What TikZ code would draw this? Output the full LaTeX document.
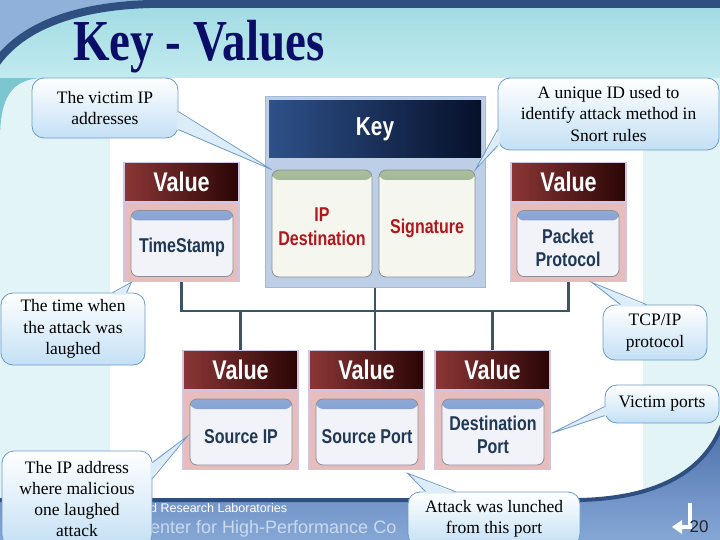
\documentclass[tikz,border=0pt]{standalone}
\usepackage{fontspec}
\setmainfont{Liberation Serif}
\newfontfamily\narrowsans[FakeStretch=0.8]{Liberation Sans}
\newfontfamily\plainsans{Liberation Sans}
\newfontfamily\titlefont[FakeStretch=0.81]{Liberation Serif}
\usetikzlibrary{calc,arrows.meta}
\definecolor{topcyanA}{HTML}{9FDAE2}
\definecolor{topcyanB}{HTML}{C2EBEF}
\definecolor{topblue}{HTML}{8FB1DA}
\definecolor{darkblue}{HTML}{2E4F80}
\definecolor{tealc}{HTML}{7CC6CF}
\definecolor{palecyan}{HTML}{E2F4F6}
\definecolor{botA}{HTML}{4D70AB}
\definecolor{botB}{HTML}{89AAD8}
\definecolor{kgfill}{HTML}{BCCFE6}
\definecolor{kgborder}{HTML}{A3B9D8}
\definecolor{navyA}{HTML}{2E5189}
\definecolor{navyB}{HTML}{06102A}
\definecolor{redA}{HTML}{8C3636}
\definecolor{redB}{HTML}{2A0505}
\definecolor{lav}{HTML}{CFC6E6}
\definecolor{pinkbody}{HTML}{E6BCBC}
\definecolor{cardborder}{HTML}{8C8F98}
\definecolor{kcardfill}{HTML}{F5F7EF}
\definecolor{gbarA}{HTML}{A9BE9A}
\definecolor{gbarB}{HTML}{728F62}
\definecolor{vcardfill}{HTML}{F2F3F8}
\definecolor{bbarA}{HTML}{8FA9D8}
\definecolor{bbarB}{HTML}{5875B3}
\definecolor{ktextc}{HTML}{B3161D}
\definecolor{vtextc}{HTML}{1F3856}
\definecolor{connc}{HTML}{3D5463}
\definecolor{titleblue}{HTML}{0B0E66}
\definecolor{cborder}{HTML}{6C9BC9}
\definecolor{cbot}{HTML}{C3E0F5}
\definecolor{wedgefill}{HTML}{DCEDF9}
\definecolor{bandtext}{HTML}{CAD9EE}
\begin{document}
\begin{tikzpicture}[x=1pt,y=-1pt,
  kgroup/.style={draw=kgborder, fill=kgfill, line width=1, minimum width=220, minimum height=190, inner sep=0},
  keyhead/.style={left color=navyA, right color=navyB, minimum width=212, minimum height=57, inner sep=0, text=white, font=\narrowsans\bfseries\fontsize{26}{26}\selectfont},
  card/.style={rounded corners=7, draw=cardborder, line width=0.8, inner sep=0},
  keycard/.style={card, fill=kcardfill, minimum height=107, path picture={\shade[top color=gbarA, bottom color=gbarB] (path picture bounding box.north west) rectangle ([yshift=-10pt]path picture bounding box.north east);}},
  valcard/.style={card, fill=vcardfill, minimum width=102, minimum height=66, path picture={\shade[top color=bbarA, bottom color=bbarB] (path picture bounding box.north west) rectangle ([yshift=-10pt]path picture bounding box.north east);}},
  valhead/.style={left color=redA, right color=redB, draw=lav, line width=1.2, minimum width=115, minimum height=39, inner sep=0, text=white, font=\narrowsans\bfseries\fontsize{27}{27}\selectfont},
  valbody/.style={fill=pinkbody, draw=lav, line width=1.2, minimum width=115, minimum height=79, inner sep=0},
  ktext/.style={text=ktextc, align=center, inner sep=0, font=\narrowsans\bfseries\fontsize{20}{24}\selectfont},
  vtext/.style={text=vtextc, align=center, inner sep=0, font=\narrowsans\bfseries\fontsize{20}{23.5}\selectfont},
  conn/.style={draw=connc, line width=2.4},
  callout/.style={rounded corners=12, draw=cborder, line width=0.8, top color=white, bottom color=cbot, align=center, inner sep=0, font=\fontsize{17.5}{21.5}\selectfont},
  wedgeline/.style={draw=cborder, line width=0.8},
  wedgebody/.style={fill=wedgefill}
]
\useasboundingbox (0,0) rectangle (720,540);
% ---------- background ----------
\fill[top color=topcyanA, bottom color=topcyanB] (0,0) rectangle (720,80);
\fill[topblue] (0,0) -- (150,0) .. controls (80,2) and (25,20) .. (0,55) -- cycle;
\draw[darkblue, line width=8] (725,4) -- (150,4) .. controls (80,6) and (25,24) .. (-3,62);
\fill[tealc] (0,78) rectangle (60,545);
\fill[palecyan] (0,140) .. controls (0,100) and (10,78) .. (45,78) -- (720,78) -- (720,545) -- (0,545) -- cycle;
\fill[white] (110,78) rectangle (643,505);
\fill[top color=botA, bottom color=botB] (-2,500) -- (580,500) .. controls (660,498) and (705,470) .. (722,425) -- (722,545) -- (-2,545) -- cycle;
\draw[darkblue, line width=4] (-2,500) -- (580,500) .. controls (660,498) and (705,470) .. (722,425);
\node[anchor=base west, inner sep=0, text=white, font=\plainsans\fontsize{12.5}{12.5}\selectfont] (lab) at (150,512) {d Research Laboratories};
\node[anchor=base west, inner sep=0, text=bandtext, font=\plainsans\fontsize{18}{18}\selectfont] (ctr) at (150,533) {enter for High-Performance Co};
\draw[white, line width=4] (690,503) -- (690,527) -- (680,527);
\fill[white] (672,527) -- (682,520) -- (682,534) -- cycle;
\node[inner sep=0, text=black!85, font=\plainsans\fontsize{17}{17}\selectfont] (pg) at (699,527) {20};
% ---------- title ----------
\node[anchor=base west, inner sep=0, text=titleblue, font=\titlefont\bfseries\fontsize{58}{58}\selectfont] (title) at (73,61) {Key - Values};
% ---------- key group ----------
\node[kgroup] (kg) at (375,192) {};
\node[keyhead] (kh) at (375,129.5) {Key};
\node[keycard, minimum width=100] (ipc) at (322,223.5) {};
\node[ktext] (ipt) at (322,227) {IP\\Destination};
\node[keycard, minimum width=96] (sgc) at (427,223.5) {};
\node[ktext] (sgt) at (427,228) {Signature};
% ---------- top values ----------
\node[valhead] (tsh) at (181.5,182) {Value};
\node[valbody, anchor=north] (tsb) at (tsh.south) {};
\node[valcard] (tsc) at (182,243.5) {};
\node[vtext] (tst) at (182,247) {TimeStamp};
\node[valhead] (pph) at (568.5,182) {Value};
\node[valbody, anchor=north] (ppb) at (pph.south) {};
\node[valcard] (ppc) at (568,243.5) {};
\node[vtext] (ppt) at (568,248) {Packet\\Protocol};
% ---------- bottom values ----------
\node[valhead] (sih) at (240.5,370) {Value};
\node[valbody, anchor=north] (sib) at (sih.south) {};
\node[valcard] (sic) at (241,432) {};
\node[vtext] (sit) at (241,437) {Source IP};
\node[valhead] (sph) at (366.5,370) {Value};
\node[valbody, anchor=north] (spb) at (sph.south) {};
\node[valcard] (spc) at (367,432) {};
\node[vtext] (spt) at (367,437) {Source Port};
\node[valhead] (dph) at (492.5,370) {Value};
\node[valbody, anchor=north] (dpb) at (dph.south) {};
\node[valcard] (dpc) at (493,432) {};
\node[vtext] (dpt) at (493,435) {Destination\\Port};
% ---------- connectors ----------
\coordinate (bus) at (0,311);
\draw[conn] (tsb.south) |- (ppb.south |- bus) -- (ppb.south);
\draw[conn] (kg.south) -- (kg.south |- sph.north);
\draw[conn] (sih.north) -- (sih.north |- bus);
\draw[conn] (dph.north) -- (dph.north |- bus);
% ---------- callouts ----------
\node[callout, minimum width=146, minimum height=60] (c1) at (105,108) {The victim IP\\addresses};
\fill[wedgebody] ($(c1.north east)+(-2,34)$) -- ($(c1.north east)+(-2,52)$) -- (ipc.north west) -- cycle;
\draw[wedgeline] ($(c1.north east)+(0,34)$) -- (ipc.north west) -- ($(c1.north east)+(0,52)$);

\node[callout, minimum width=221, minimum height=72] (c2) at (608.5,114) {A unique ID used to\\identify attack method in\\Snort rules};
\fill[wedgebody] ($(c2.north west)+(2,52)$) -- ($(c2.north west)+(2,68)$) -- (sgc.north east) -- cycle;
\draw[wedgeline] ($(c2.north west)+(0,52)$) -- (sgc.north east) -- ($(c2.north west)+(0,68)$);

\node[callout, minimum width=144, minimum height=72] (c3) at (73,329) {The time when\\the attack was\\laughed};
\fill[wedgebody] ($(c3.north west)+(112,2)$) -- ($(c3.north west)+(126,2)$) -- ($(tsb.south west)+(8,0)$) -- cycle;
\draw[wedgeline] ($(c3.north west)+(112,0)$) -- ($(tsb.south west)+(8,0)$) -- ($(c3.north west)+(126,0)$);

\node[callout, minimum width=104, minimum height=55] (c4) at (655,332.5) {TCP/IP\\protocol};
\fill[wedgebody] ($(c4.north west)+(18,2)$) -- ($(c4.north west)+(44,2)$) -- ($(ppb.south east)+(-35,0)$) -- cycle;
\draw[wedgeline] ($(c4.north west)+(18,0)$) -- ($(ppb.south east)+(-35,0)$) -- ($(c4.north west)+(44,0)$);

\node[callout, minimum width=114, minimum height=38] (c5) at (662,404) {Victim ports};
\fill[wedgebody] ($(c5.north west)+(2,22)$) -- ($(c5.north west)+(2,31)$) -- ($(dpb.east)+(1,3)$) -- cycle;
\draw[wedgeline] ($(c5.north west)+(0,22)$) -- ($(dpb.east)+(1,3)$) -- ($(c5.north west)+(0,31)$);

\node[callout, minimum width=150, minimum height=96, font=\fontsize{17.5}{21}\selectfont] (c6) at (77,499) {The IP address\\where malicious\\one laughed\\attack};
\fill[wedgebody] ($(c6.north east)+(-2,12)$) -- ($(c6.north east)+(-2,28)$) -- ($(sib.west)+(5,6)$) -- cycle;
\draw[wedgeline] ($(c6.north east)+(0,12)$) -- ($(sib.west)+(5,6)$) -- ($(c6.north east)+(0,28)$);

\node[callout, minimum width=172, minimum height=54] (c7) at (494,519) {Attack was lunched\\from this port};
\fill[wedgebody] ($(c7.north west)+(18,2)$) -- ($(c7.north west)+(48,2)$) -- ($(spb.south east)+(-17,3)$) -- cycle;
\draw[wedgeline] ($(c7.north west)+(18,0)$) -- ($(spb.south east)+(-17,3)$) -- ($(c7.north west)+(48,0)$);
\end{tikzpicture}
\end{document}
